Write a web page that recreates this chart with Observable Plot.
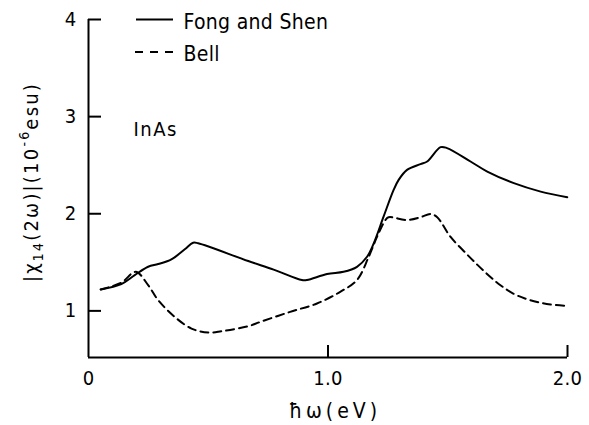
<!DOCTYPE html>
<html><head><meta charset="utf-8">
<script src="https://cdn.jsdelivr.net/npm/d3@7"></script>
<script src="https://cdn.jsdelivr.net/npm/@observablehq/plot@0.6"></script>
<style>
body{margin:0;background:#fff;}
#chart svg{display:block;}
</style></head><body><div id="chart"></div>
<script>
// Fong and Shen (solid)
const fongX = [0.051,0.137,0.193,0.249,0.291,0.346,0.402,0.437,0.458,0.667,0.773,0.891,0.912,0.996,1.065,1.121,1.163,1.191,1.232,1.274,1.295,1.330,1.386,1.414,1.470,1.497,1.595,1.665,1.776,1.888,1.999];
const fongY = [1.221,1.276,1.368,1.454,1.482,1.530,1.634,1.702,1.696,1.513,1.425,1.317,1.317,1.379,1.402,1.454,1.557,1.696,1.970,2.246,2.349,2.452,2.511,2.538,2.686,2.676,2.538,2.434,2.315,2.228,2.170];
// Bell (dashed)
const bellX = [0.051,0.137,0.197,0.249,0.291,0.360,0.430,0.500,0.555,0.667,0.717,0.842,0.954,1.051,1.121,1.170,1.205,1.240,1.253,1.330,1.386,1.428,1.456,1.511,1.577,1.623,1.671,1.720,1.776,1.825,1.880,1.929,1.999];
const bellY = [1.221,1.290,1.402,1.265,1.110,0.938,0.818,0.777,0.790,0.842,0.886,0.990,1.076,1.196,1.317,1.557,1.764,1.936,1.964,1.936,1.964,1.998,1.964,1.764,1.590,1.476,1.365,1.264,1.175,1.125,1.088,1.066,1.052];

const xTicks = [0, 1, 2];
const xTickLabels = ["0", "1.0", "2.0"];
const yTicks = [1, 2, 3, 4];
const yTickLabels = ["1", "2", "3", "4"];
const seriesNames = ["Fong and Shen", "Bell"];
const annotation = "InAs";
const xLabel = "ħω(eV)";

const fong = fongX.map((x, i) => ({x, y: fongY[i]}));
const bell = bellX.map((x, i) => ({x, y: bellY[i]}));

const W = 589, H = 425, mL = 88, mR = 22, mT = 19, mB = 68;
const xDom = [0, 2], yDom = [0.52, 4];
const pxX = (W - mL - mR) / (xDom[1] - xDom[0]);
const pxY = (H - mT - mB) / (yDom[1] - yDom[0]);
const FONT = "'DejaVu Sans Condensed','DejaVu Sans',sans-serif";

const plot = Plot.plot({
  width: W, height: H,
  marginLeft: mL, marginRight: mR, marginTop: mT, marginBottom: mB,
  x: {domain: xDom},
  y: {domain: yDom},
  style: {fontFamily: FONT, fontSize: "20px", color: "black", background: "white", overflow: "visible"},
  marks: [
    Plot.ruleX([xDom[0]], {stroke: "black", strokeWidth: 2}),
    Plot.ruleY([yDom[0]], {stroke: "black", strokeWidth: 2}),
    Plot.ruleY(yTicks, {x1: xDom[0], x2: xDom[0] + 13 / pxX, stroke: "black", strokeWidth: 2}),
    Plot.ruleX(xTicks.filter(d => d > xDom[0]), {y1: yDom[0], y2: yDom[0] + 12 / pxY, stroke: "black", strokeWidth: 2}),
    Plot.axisX({ticks: xTicks, tickFormat: d => xTickLabels[xTicks.indexOf(d)], tickSize: 0, tickPadding: 13, label: null, fontSize: 20}),
    Plot.axisY({ticks: yTicks, tickFormat: d => yTickLabels[yTicks.indexOf(d)], tickSize: 0, tickPadding: 12, label: null, fontSize: 20}),
    Plot.line(fong, {x: "x", y: "y", curve: "catmull-rom", stroke: "black", strokeWidth: 2}),
    Plot.line(bell, {x: "x", y: "y", curve: "catmull-rom", stroke: "black", strokeWidth: 2, strokeDasharray: "8,5"}),
    Plot.text([seriesNames[0]], {text: d => d, frameAnchor: "top-left", dx: 95, dy: 2.5, textAnchor: "start", lineAnchor: "middle", fontSize: 21, fill: "black"}),
    Plot.text([seriesNames[1]], {text: d => d, frameAnchor: "top-left", dx: 95, dy: 35, textAnchor: "start", lineAnchor: "middle", fontSize: 21, fill: "black"}),
    Plot.text([annotation], {text: d => d, frameAnchor: "top-left", dx: 45, dy: 110, textAnchor: "start", lineAnchor: "middle", fontSize: 20, fill: "black"}),
    Plot.text([xLabel], {text: d => d, frameAnchor: "bottom", dx: 7, dy: 54, textAnchor: "middle", lineAnchor: "middle", fontSize: 21, fill: "black"})
  ]
});

const svg = d3.select(plot);
svg.selectAll("text").style("letter-spacing", "0.3px");
svg.selectAll("text").filter(function() { return this.textContent === xLabel; }).style("letter-spacing", "4px");
svg.selectAll("text").filter(function() { return this.textContent === annotation; }).style("letter-spacing", "1.5px");
// legend swatches
svg.append("line").attr("x1", 136).attr("x2", 173).attr("y1", 19.5).attr("y2", 19.5)
  .attr("stroke", "black").attr("stroke-width", 2);
svg.append("line").attr("x1", 135).attr("x2", 173).attr("y1", 52).attr("y2", 52)
  .attr("stroke", "black").attr("stroke-width", 2).attr("stroke-dasharray", "8,7");
// y-axis label with sub/superscripts
const yl = svg.append("text")
  .attr("transform", "translate(38,182) rotate(-90)")
  .attr("text-anchor", "middle")
  .style("font-family", FONT).style("font-size", "20px").style("letter-spacing", "2.2px")
  .attr("fill", "black");
yl.append("tspan").text("|χ");
yl.append("tspan").attr("font-size", "14px").attr("dy", "5").text("14");
yl.append("tspan").attr("dy", "-5").text("(2ω)|(10");
yl.append("tspan").attr("font-size", "14px").attr("dy", "-9").text("-6");
yl.append("tspan").attr("dy", "9").text("esu)");

document.getElementById("chart").appendChild(plot);
</script></body></html>
